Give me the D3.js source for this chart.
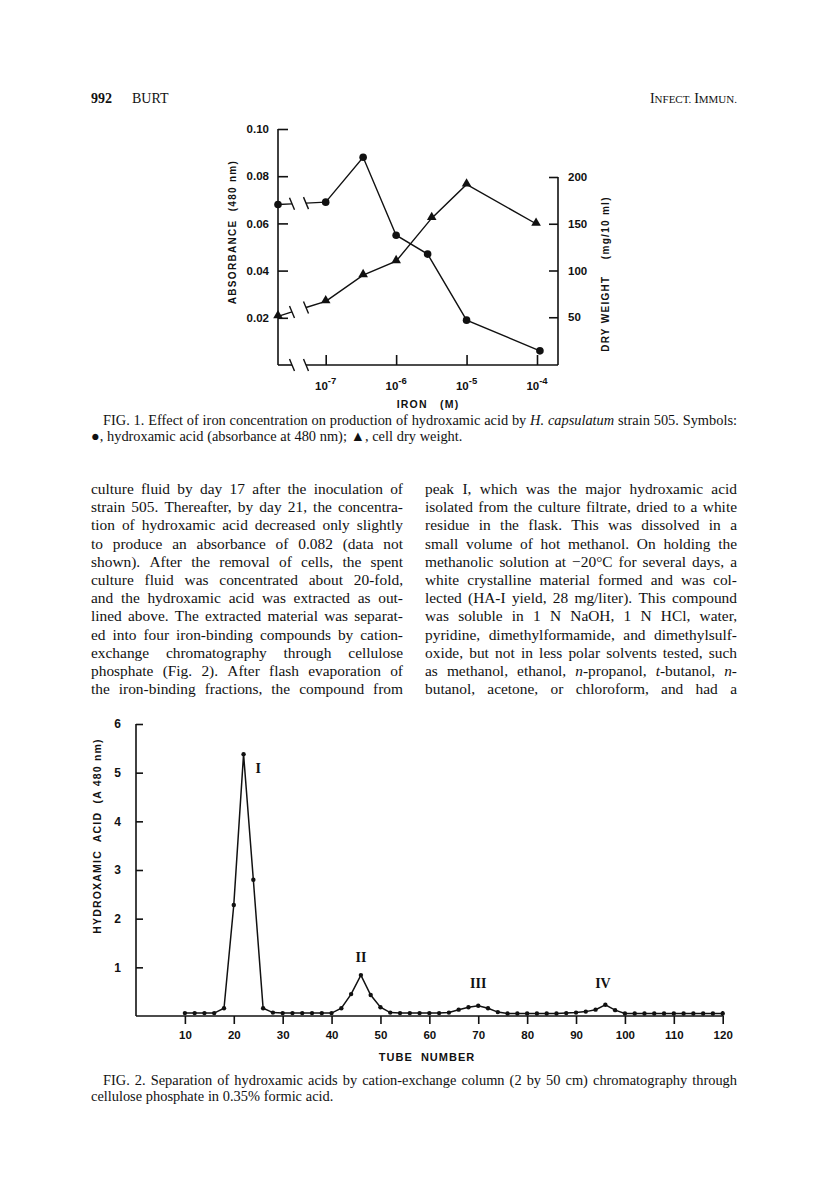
<!DOCTYPE html>
<html>
<head>
<meta charset="utf-8">
<script src="https://cdn.jsdelivr.net/npm/d3@7"></script>
<style>
  body { margin: 0; background: #fff; }
  svg { display: block; }
  .serif { font-family: "Liberation Serif", "Times New Roman", serif; fill: #111; }
  .lab { font-family: "Liberation Sans", Arial, sans-serif; font-weight: bold; fill: #111; }
</style>
</head>
<body>
<div id="page"></div>
<script>
// ---- Fig. 1 data (0 = no iron added, drawn on the axis) ----
const absIron = [0, 1e-7, 3.4e-7, 1e-6, 2.8e-6, 1e-5, 1.1e-4]
const absValues = [0.068, 0.069, 0.088, 0.055, 0.047, 0.019, 0.006]
const dryIron = [0, 1e-7, 3.4e-7, 1e-6, 3.2e-6, 1e-5, 0.97e-4]
const dryValues = [51, 67, 95, 110, 156, 192, 150]
const absTicks = [0.02, 0.04, 0.06, 0.08, 0.10]
const dryTicks = [50, 100, 150, 200]
const ironTicks = [1e-7, 1e-6, 1e-5, 1e-4]
const ironTickExp = ["-7", "-6", "-5", "-4"]

// ---- Fig. 2 data ----
const tubes = [10, 12, 14, 16, 18, 20, 22, 24, 26, 28, 30, 32, 34, 36, 38, 40,
  42, 44, 46, 48, 50, 52, 54, 56, 58, 60, 62, 64,
  66, 68, 70, 72, 74, 76, 78, 80, 82, 84, 86, 88, 90, 92, 94, 96, 98, 100,
  102, 104, 106, 108, 110, 112, 114, 116, 118, 120]
const hydroxamic = [0.06, 0.06, 0.06, 0.06, 0.16, 2.28, 5.38, 2.80, 0.16, 0.07, 0.06, 0.06, 0.06, 0.06, 0.06, 0.06,
  0.16, 0.45, 0.84, 0.43, 0.18, 0.07, 0.06, 0.06, 0.06, 0.06, 0.06, 0.07,
  0.13, 0.18, 0.21, 0.16, 0.08, 0.05, 0.05, 0.05, 0.05, 0.05, 0.05, 0.06, 0.07, 0.09, 0.13, 0.23, 0.12, 0.05,
  0.05, 0.05, 0.05, 0.05, 0.05, 0.05, 0.05, 0.05, 0.05, 0.05]
const tubeTicks = [10, 20, 30, 40, 50, 60, 70, 80, 90, 100, 110, 120]
const hydroTicks = [1, 2, 3, 4, 5, 6]
const peakLabels = ["I", "II", "III", "IV"]
const peakTube = [25, 46, 70, 95.5]
const peakHeight = [5.0, 1.1, 0.58, 0.58]

// ---- page text (_x_ = italic) ----
const leftColumn = [
  "culture fluid by day 17 after the inoculation of",
  "strain 505. Thereafter, by day 21, the concentra-",
  "tion of hydroxamic acid decreased only slightly",
  "to produce an absorbance of 0.082 (data not",
  "shown). After the removal of cells, the spent",
  "culture fluid was concentrated about 20-fold,",
  "and the hydroxamic acid was extracted as out-",
  "lined above. The extracted material was separat-",
  "ed into four iron-binding compounds by cation-",
  "exchange chromatography through cellulose",
  "phosphate (Fig. 2). After flash evaporation of",
  "the iron-binding fractions, the compound from"
]
const rightColumn = [
  "peak I, which was the major hydroxamic acid",
  "isolated from the culture filtrate, dried to a white",
  "residue in the flask. This was dissolved in a",
  "small volume of hot methanol. On holding the",
  "methanolic solution at \u221220\u00b0C for several days, a",
  "white crystalline material formed and was col-",
  "lected (HA-I yield, 28 mg/liter). This compound",
  "was soluble in 1 N NaOH, 1 N HCl, water,",
  "pyridine, dimethylformamide, and dimethylsulf-",
  "oxide, but not in less polar solvents tested, such",
  "as methanol, ethanol, _n_-propanol, _t_-butanol, _n_-",
  "butanol, acetone, or chloroform, and had a"
]
const fig1Caption = [
  "FIG. 1. Effect of iron concentration on production of hydroxamic acid by _H._ _capsulatum_ strain 505. Symbols:",
  "\u25cf, hydroxamic acid (absorbance at 480 nm); \u25b2, cell dry weight."
]
const fig2Caption = [
  "FIG. 2. Separation of hydroxamic acids by cation-exchange column (2 by 50 cm) chromatography through",
  "cellulose phosphate in 0.35% formic acid."
]

// layout
const page = { left: 91, right: 737, colWidth: 312, gutter: 22 }
const body = { top: 494, lead: 18.2 }
const f1 = { left: 278, right: 558, top: 129, bottom: 365, brk1: 292, brk2: 306 }
const f2 = { left: 136, right: 722.7, top: 724, bottom: 1016 }

const svg = d3.select("#page").append("svg")
  .attr("width", 816)
  .attr("height", 1189)
svg.append("rect").attr("width", 816).attr("height", 1189).attr("fill", "#fff")

// ---------- text helpers ----------
function wordNodes(g, str, y, size) {
  return str.split(" ").map(w => {
    const t = g.append("text").attr("y", y).style("font-size", size + "px")
    w.split("_").forEach((part, i) => {
      if (part) t.append("tspan").text(part).style("font-style", i % 2 ? "italic" : "normal")
    })
    return t
  })
}

// font size at which a line fills the width with ordinary word spaces
function fitSize(str, width) {
  const g = svg.append("g").attr("class", "serif")
  const nodes = wordNodes(g, str, -100, 10)
  const w = d3.sum(nodes, n => n.node().getComputedTextLength()) + (nodes.length - 1) * 2.6
  g.remove()
  return 10 * width / w
}

function textLine(str, x, y, width, size, justify) {
  const g = svg.append("g").attr("class", "serif")
  const nodes = wordNodes(g, str, y, size)
  const widths = nodes.map(n => n.node().getComputedTextLength())
  const space = justify && nodes.length > 1
    ? (width - d3.sum(widths)) / (nodes.length - 1)
    : size * 0.26
  let cx = x
  nodes.forEach((n, i) => { n.attr("x", cx); cx += widths[i] + space })
}

// header
svg.append("text").attr("class", "serif").attr("x", page.left).attr("y", 103)
  .style("font-size", "14px").style("font-weight", "bold").text("992")
svg.append("text").attr("class", "serif").attr("x", page.left + 41).attr("y", 103)
  .style("font-size", "14px").text("BURT")
const hdr = svg.append("text").attr("class", "serif").attr("x", page.right).attr("y", 103)
  .attr("text-anchor", "end").style("font-size", "14px")
hdr.append("tspan").text("I")
hdr.append("tspan").style("font-size", "11px").text("NFECT. ")
hdr.append("tspan").text("I")
hdr.append("tspan").style("font-size", "11px").text("MMUN.")

// body columns: one font size for both, just above the tightest line's fit
const allLines = leftColumn.concat(rightColumn)
const bodySize = Math.min(15.4, d3.min(allLines, l => fitSize(l, page.colWidth)) * 1.06)
leftColumn.forEach((l, i) => textLine(l, page.left, body.top + i * body.lead, page.colWidth, bodySize, true))
rightColumn.forEach((l, i) => textLine(l, page.left + page.colWidth + page.gutter, body.top + i * body.lead, page.colWidth, bodySize, true))

// captions
const capWidth = page.right - page.left - 12
const capSize = Math.min(14.6, d3.min([fitSize(fig1Caption[0], capWidth), fitSize(fig2Caption[0], capWidth)]))
textLine(fig1Caption[0], page.left + 12, 425, capWidth, capSize, true)
textLine(fig1Caption[1], page.left, 441, 0, capSize, false)
textLine(fig2Caption[0], page.left + 12, 1085, capWidth, capSize, true)
textLine(fig2Caption[1], page.left, 1101, 0, capSize, false)

// ================= FIG. 1 =================
const x1 = d3.scaleLog().domain([1e-7, 1e-4]).range([f1.left + 47.7, f1.left + 259])
const yAbs = d3.scaleLinear().domain([0, 0.10]).range([f1.bottom, f1.top])
const yDry = d3.scaleLinear().domain([0, 200]).range([f1.bottom - 1, 177])
const xPos = v => v === 0 ? f1.left : x1(v)

const g1 = svg.append("g")
const axisStyle = sel => sel.attr("stroke", "#111").attr("stroke-width", 1.6).attr("fill", "none")

// left axis
const leftAxis = g1.append("g").attr("transform", `translate(${f1.left},0)`)
  .call(d3.axisLeft(yAbs).tickValues(absTicks).tickSize(-10).tickPadding(9)
    .tickFormat(d3.format(".2f")))
leftAxis.select(".domain").remove()
leftAxis.selectAll("line").call(axisStyle)
leftAxis.selectAll("text").attr("class", "lab").style("font-size", "11.5px").attr("font-family", null)
g1.append("line").attr("x1", f1.left).attr("x2", f1.left).attr("y1", f1.top).attr("y2", f1.bottom).call(axisStyle)

// right axis
const rightAxis = g1.append("g").attr("transform", `translate(${f1.right},0)`)
  .call(d3.axisRight(yDry).tickValues(dryTicks).tickSize(-9).tickPadding(10))
rightAxis.select(".domain").remove()
rightAxis.selectAll("line").call(axisStyle)
rightAxis.selectAll("text").attr("class", "lab").style("font-size", "11.5px").attr("font-family", null)
g1.append("line").attr("x1", f1.right).attr("x2", f1.right).attr("y1", yDry(200)).attr("y2", f1.bottom).call(axisStyle)

// bottom axis with break
const bottomAxis = g1.append("g").attr("transform", `translate(0,${f1.bottom})`)
  .call(d3.axisBottom(x1).tickValues(ironTicks).tickSize(-10).tickFormat(""))
bottomAxis.select(".domain").remove()
bottomAxis.selectAll("line").call(axisStyle)
g1.append("line").attr("x1", f1.left).attr("x2", f1.brk1).attr("y1", f1.bottom).attr("y2", f1.bottom).call(axisStyle)
g1.append("line").attr("x1", f1.brk2).attr("x2", f1.right).attr("y1", f1.bottom).attr("y2", f1.bottom).call(axisStyle)

function slash(x, y) {
  g1.append("line").attr("x1", x - 2.5).attr("y1", y - 6).attr("x2", x + 2.5).attr("y2", y + 6)
    .attr("stroke", "#111").attr("stroke-width", 1.4)
}
slash(f1.brk1, f1.bottom)
slash(f1.brk2, f1.bottom)

// iron tick labels 10^n
ironTicks.forEach((v, i) => {
  const t = g1.append("text").attr("class", "lab").attr("x", x1(v)).attr("y", f1.bottom + 25)
    .attr("text-anchor", "middle").style("font-size", "11.5px")
  t.append("tspan").text("10")
  t.append("tspan").attr("dy", -6).style("font-size", "9.5px").text(ironTickExp[i])
})

// axis titles
g1.append("text").attr("class", "lab").attr("transform", `translate(232,232) rotate(-90)`)
  .attr("text-anchor", "middle").attr("dy", "0.35em").style("font-size", "10px")
  .style("letter-spacing", "1.3px").style("white-space", "pre").text("ABSORBANCE  (480 nm)")
g1.append("text").attr("class", "lab").attr("transform", `translate(605,274) rotate(-90)`)
  .attr("text-anchor", "middle").attr("dy", "0.35em").style("font-size", "10px")
  .style("letter-spacing", "1.3px").style("white-space", "pre").text("DRY WEIGHT    (mg/10 ml)")
g1.append("text").attr("class", "lab").attr("x", 428).attr("y", 408)
  .attr("text-anchor", "middle").style("font-size", "10.5px")
  .style("letter-spacing", "1.2px").style("white-space", "pre").text("IRON   (M)")

// series drawing with the broken first segment
function drawSeries(xs, ys, yScale, marker) {
  const pts = xs.map((v, i) => [xPos(v), yScale(ys[i])])
  const [p0, p1] = pts
  const lerp = x => p0[1] + (p1[1] - p0[1]) * (x - p0[0]) / (p1[0] - p0[0])
  const lineStyle = sel => sel.attr("stroke", "#111").attr("stroke-width", 1.4).attr("fill", "none")
  g1.append("line").attr("x1", p0[0]).attr("y1", p0[1]).attr("x2", f1.brk1).attr("y2", lerp(f1.brk1)).call(lineStyle)
  g1.append("line").attr("x1", f1.brk2).attr("y1", lerp(f1.brk2)).attr("x2", p1[0]).attr("y2", p1[1]).call(lineStyle)
  slash(f1.brk1, lerp(f1.brk1))
  slash(f1.brk2, lerp(f1.brk2))
  g1.append("path").attr("d", d3.line()(pts.slice(1))).call(lineStyle)
  if (marker === "circle") {
    g1.selectAll(null).data(pts).join("circle")
      .attr("cx", d => d[0]).attr("cy", d => d[1]).attr("r", 3.8).attr("fill", "#111")
  } else {
    g1.selectAll(null).data(pts).join("path")
      .attr("transform", d => `translate(${d[0]},${d[1] - 0.8})`)
      .attr("d", d3.symbol(d3.symbolTriangle, 40)).attr("fill", "#111")
  }
}
drawSeries(absIron, absValues, yAbs, "circle")
drawSeries(dryIron, dryValues, yDry, "triangle")

// ================= FIG. 2 =================
const x2 = d3.scaleLinear().domain([0, 120]).range([f2.left, f2.right])
const y2 = d3.scaleLinear().domain([0, 6]).range([f2.bottom, f2.top])
const g2 = svg.append("g")

const xAxis2 = g2.append("g").attr("transform", `translate(0,${f2.bottom})`)
  .call(d3.axisBottom(x2).tickValues(tubeTicks).tickSize(8).tickPadding(7).tickFormat(d3.format("d")))
xAxis2.select(".domain").remove()
xAxis2.selectAll("line").call(axisStyle)
xAxis2.selectAll("text").attr("class", "lab").style("font-size", "11.5px").attr("font-family", null)
g2.append("line").attr("x1", f2.left).attr("x2", f2.right).attr("y1", f2.bottom).attr("y2", f2.bottom).call(axisStyle)
g2.append("line").attr("x1", x2(120)).attr("x2", x2(120)).attr("y1", f2.bottom - 5).attr("y2", f2.bottom).call(axisStyle)

const yAxis2 = g2.append("g").attr("transform", `translate(${f2.left},0)`)
  .call(d3.axisLeft(y2).tickValues(hydroTicks).tickSize(-7).tickPadding(15).tickFormat(d3.format("d")))
yAxis2.select(".domain").remove()
yAxis2.selectAll("line").call(axisStyle)
yAxis2.selectAll("text").attr("class", "lab").style("font-size", "12px").attr("font-family", null)
g2.append("line").attr("x1", f2.left).attr("x2", f2.left).attr("y1", f2.top).attr("y2", f2.bottom).call(axisStyle)

g2.append("path")
  .datum(tubes.map((t, i) => [t, hydroxamic[i]]))
  .attr("d", d3.line().x(d => x2(d[0])).y(d => y2(d[1])))
  .attr("stroke", "#111").attr("stroke-width", 1.5).attr("fill", "none")
g2.selectAll(null).data(tubes).join("circle")
  .attr("cx", d => x2(d)).attr("cy", (d, i) => y2(hydroxamic[i])).attr("r", 2.2).attr("fill", "#111")

peakLabels.forEach((l, i) => {
  g2.append("text").attr("class", "serif").attr("x", x2(peakTube[i])).attr("y", y2(peakHeight[i]))
    .attr("text-anchor", "middle").style("font-size", "14px").style("font-weight", "bold").text(l)
})

g2.append("text").attr("class", "lab").attr("transform", `translate(97,836) rotate(-90)`)
  .attr("text-anchor", "middle").attr("dy", "0.35em").style("font-size", "10.5px")
  .style("letter-spacing", "1.2px").style("white-space", "pre").text("HYDROXAMIC  ACID  (A 480 nm)")
g2.append("text").attr("class", "lab").attr("x", 427).attr("y", 1061)
  .attr("text-anchor", "middle").style("font-size", "11px")
  .style("letter-spacing", "1px").style("white-space", "pre").text("TUBE  NUMBER")
</script>
</body>
</html>
